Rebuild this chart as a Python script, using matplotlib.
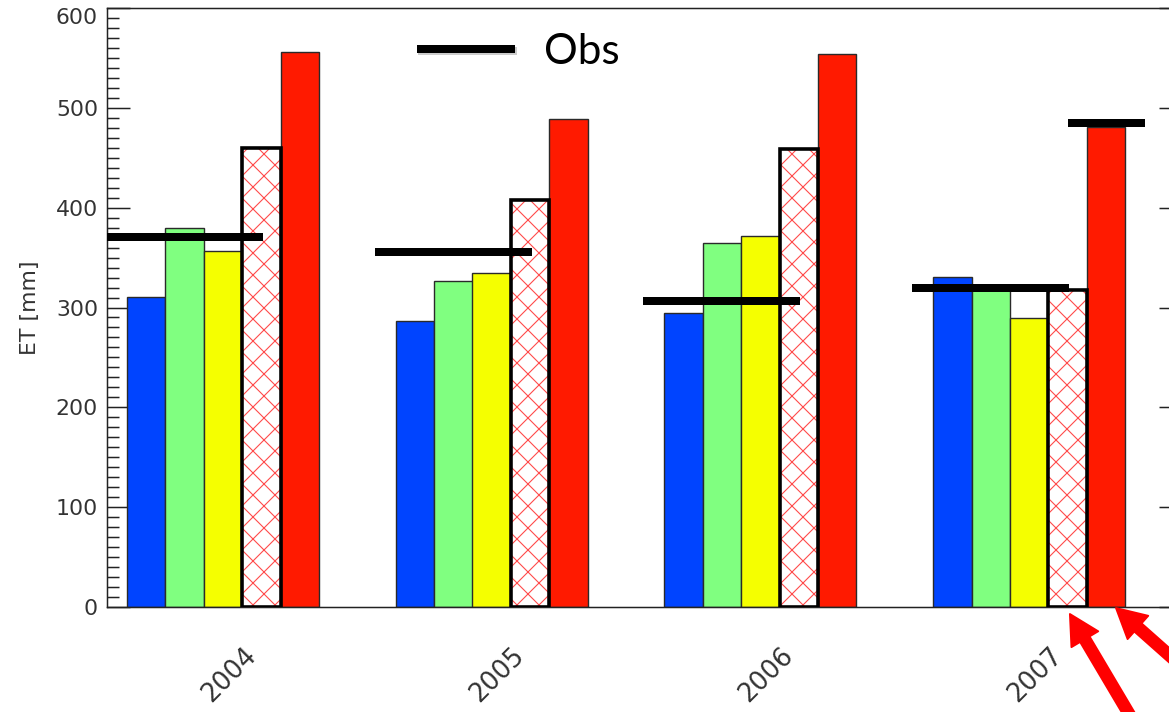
# Yearly ET from five model runs with observed values, 2004-2007.

import numpy as np
import matplotlib
matplotlib.use("Agg")
import matplotlib.pyplot as plt
import matplotlib.patheffects as pe
import matplotlib.transforms as mtransforms
from matplotlib.ticker import MultipleLocator


years = ["2004", "2005", "2006", "2007"]
et_blue = [311, 286, 294, 331]
et_green = [380, 327, 365, 318]
et_yellow = [357, 335, 372, 289]
et_hatched = [460, 408, 459, 318]
et_red = [556, 489, 554, 481]
obs = [371, 356, 307, 320]
obs_red_2007 = 485

DPI = 132
PT = 72 / DPI  # points per pixel

plt.rcParams["hatch.linewidth"] = 0.6

fig = plt.figure(figsize=(1169 / DPI, 712 / DPI), dpi=DPI)
ax = fig.add_axes([107 / 1169, 105 / 712, 1075 / 1169, 599 / 712])

group = np.arange(len(years)) * 7.0
width = 1.0
thin = dict(width=width, align="edge", edgecolor="#2a2a2a", linewidth=1.4 * PT, zorder=2)

ax.bar(group + 0, et_blue, color="#0044ff", **thin)
ax.bar(group + 1, et_green, color="#80ff80", **thin)
ax.bar(group + 2, et_yellow, color="#f5ff00", **thin)
# red cross-hatch on white, then a heavy black outline over it
ax.bar(group + 3, et_hatched, width=width, align="edge", color="white",
       edgecolor="#ff4a4a", linewidth=0, hatch="xx", zorder=2)
ax.bar(group + 3, et_hatched, width=width, align="edge", facecolor="none",
       edgecolor="black", linewidth=3.6 * PT, zorder=3)
ax.bar(group + 4, et_red, color="#ff1a00", **thin)

# observed ET as thick black dashes
obs_lines = ax.hlines(obs, group - 0.55, group + 3.54, colors="black",
                      linewidth=8 * PT, zorder=4)
ax.hlines(obs_red_2007, group[3] + 3.52, group[3] + 5.52, colors="black",
          linewidth=8 * PT, zorder=4)

ax.set_xlim(-0.52, 27.48)
ax.set_ylim(0, 600)
ax.yaxis.set_major_locator(MultipleLocator(100))
ax.yaxis.set_minor_locator(MultipleLocator(10))
ax.tick_params(axis="y", which="both", direction="in", left=True, right=True,
               width=1.5 * PT, color="#222222")
ax.tick_params(axis="y", which="major", length=23 * PT, pad=9 * PT,
               labelsize=12, labelcolor="#333333")
ax.tick_params(axis="y", which="minor", length=12 * PT)

ax.set_xticks(group + 3.5, years)
ax.tick_params(axis="x", length=0, pad=36 * PT, labelsize=14, labelcolor="#333333")
for lab in ax.get_xticklabels():
    lab.set_rotation(45)
    lab.set_ha("right")

# nudge the "600" label down so it sits inside the frame
fig.canvas.draw()
for tick in ax.yaxis.get_major_ticks():
    if tick.label1.get_text() == "600":
        tick.label1.set_transform(tick.label1.get_transform() +
                                  mtransforms.ScaledTranslation(0, -8 / DPI, fig.dpi_scale_trans))

for spine in ax.spines.values():
    spine.set_linewidth(1.5 * PT)
    spine.set_color("#222222")

ax.set_ylabel("ET [mm]", fontsize=12, color="#333333")
ax.yaxis.set_label_coords(-67 / 1075, 0.5)

# arrows pointing at the last two 2007 bars
arrow_style = "simple,head_length=1.6,head_width=1.7,tail_width=0.6"
arrows = [((group[3] + 3.56, -7), (group[3] + 5.5, -133)),
          ((group[3] + 4.76, -1), (group[3] + 7.46, -93))]
for tip, tail in arrows:
    ax.annotate("", xy=tip, xytext=tail, annotation_clip=False,
                arrowprops=dict(arrowstyle=arrow_style, color="#ff0000",
                                mutation_scale=10, shrinkA=0, shrinkB=0))

leg = fig.legend([obs_lines], ["Obs"], loc="center left",
                 bbox_to_anchor=(417 / 1169, 1 - 52 / 712), frameon=False,
                 borderpad=0, borderaxespad=0, handlelength=2.33,
                 handletextpad=0.67, prop={"family": "Lato", "size": 23})
leg.legend_handles[0].set_path_effects([
    pe.SimpleLineShadow(offset=(0.8, -0.8), alpha=0.2, shadow_color="black"),
    pe.Normal(),
])

fig.savefig("out.png", dpi=DPI)
